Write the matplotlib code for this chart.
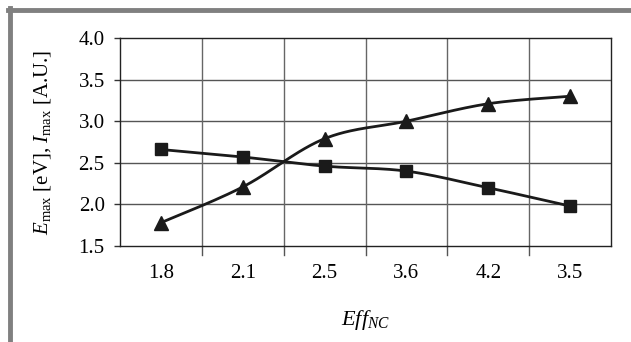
import numpy as np
import matplotlib
matplotlib.use("Agg")
import matplotlib.pyplot as plt
from matplotlib.lines import Line2D

categories = ["1.8", "2.1", "2.5", "3.6", "4.2", "3.5"]
triangle_vals = [1.78, 2.21, 2.79, 3.00, 3.21, 3.30]
square_vals = [2.66, 2.57, 2.46, 2.40, 2.20, 1.98]
y_ticks = [1.5, 2.0, 2.5, 3.0, 3.5, 4.0]

plt.rcParams['font.family'] = ['Liberation Serif', 'DejaVu Serif']
plt.rcParams['mathtext.fontset'] = 'custom'
plt.rcParams['mathtext.rm'] = 'Liberation Serif'
plt.rcParams['mathtext.it'] = 'Liberation Serif:italic'

def smooth(x, y, n=30):
    # Catmull-Rom style smoothing (like spreadsheet smoothed lines)
    x = np.asarray(x, float); y = np.asarray(y, float)
    px = np.concatenate([[x[0]], x, [x[-1]]])
    py = np.concatenate([[y[0]], y, [y[-1]]])
    xs, ys = [], []
    for i in range(1, len(px) - 2):
        p0, p1, p2, p3 = (np.array([px[j], py[j]]) for j in (i - 1, i, i + 1, i + 2))
        c1 = p1 + (p2 - p0) / 6.0
        c2 = p2 - (p3 - p1) / 6.0
        t = np.linspace(0, 1, n)[:, None]
        pts = (1 - t) ** 3 * p1 + 3 * (1 - t) ** 2 * t * c1 + 3 * (1 - t) * t ** 2 * c2 + t ** 3 * p2
        xs.extend(pts[:, 0]); ys.extend(pts[:, 1])
    return np.array(xs), np.array(ys)

fig = plt.figure(figsize=(6.31, 3.42), dpi=100)
ax = fig.add_axes([120 / 631, 1 - 246 / 342, 491 / 631, 208 / 342])

xpos = np.arange(len(categories))
ax.set_xlim(-0.5, len(categories) - 0.5)
ax.set_ylim(1.5, 4.0)

# grid
for yv in y_ticks[1:-1]:
    ax.axhline(yv, color='#555555', lw=1.0, zorder=1)
for b in np.arange(0.5, len(categories) - 0.5, 1.0):
    ax.axvline(b, color='#666666', lw=1.0, zorder=1)
    ax.add_line(Line2D([b, b], [-0.045, 0], transform=ax.get_xaxis_transform(),
                       color='#555555', lw=1.0, clip_on=False))

for s in ax.spines.values():
    s.set_color('#222222'); s.set_linewidth(1.0)

sx, sy = smooth(xpos, triangle_vals)
ax.plot(sx, sy, color='#1a1a1a', lw=2.0, zorder=3)
ax.plot(xpos, triangle_vals, '^', color='#1a1a1a', ms=10, zorder=4)
sx, sy = smooth(xpos, square_vals)
ax.plot(sx, sy, color='#1a1a1a', lw=2.0, zorder=3)
ax.plot(xpos, square_vals, 's', color='#1a1a1a', ms=9, zorder=4)

ax.set_xticks(xpos)
ax.set_xticklabels(categories, fontsize=15)
ax.tick_params(axis='x', length=0, pad=13)
ax.set_yticks(y_ticks)
ax.set_yticklabels([f"{v:.1f}" for v in y_ticks], fontsize=15)
ax.tick_params(axis='y', length=4, width=1.0, color='#333333', pad=7)

ax.set_xlabel(r"$\mathit{Eff}_{\mathit{NC}}$", fontsize=16, labelpad=18)
ax.set_ylabel(r"$\mathit{E}_{\mathrm{max}}$ [eV], $\mathit{I}_{\mathrm{max}}$ [A.U.]", fontsize=15, labelpad=18)

# gray frame on top and left
fig.add_artist(Line2D([8 / 631, 1], [1 - 9.5 / 342, 1 - 9.5 / 342], color='#808080', lw=3.5,
                      transform=fig.transFigure))
fig.add_artist(Line2D([9.5 / 631, 9.5 / 631], [0, 1 - 8 / 342], color='#808080', lw=3.5,
                      transform=fig.transFigure))

fig.savefig("out.png", dpi=100)
